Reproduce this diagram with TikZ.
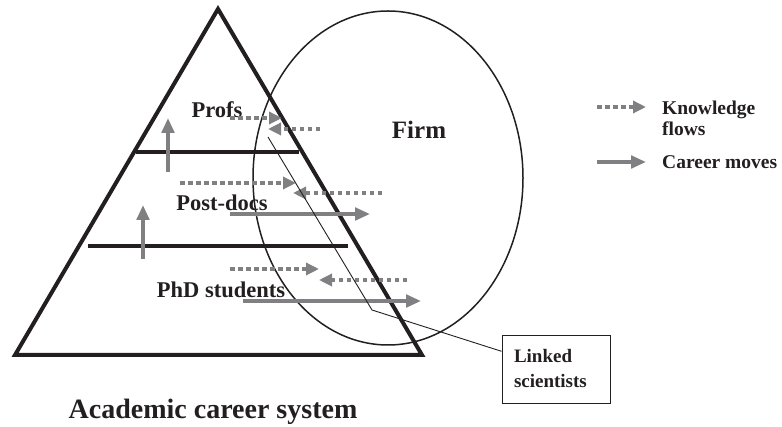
\documentclass[tikz,border=0pt]{standalone}
\usepackage{fontspec}
\setmainfont{Liberation Serif}
\usetikzlibrary{positioning,calc}
\usetikzlibrary{arrows.meta}
\definecolor{flowgray}{RGB}{128,128,130}
\definecolor{inkblack}{RGB}{35,31,32}
\tikzstyle{level} = [font=\bfseries\fontsize{22.5}{26}\selectfont, inner sep=0pt, text=inkblack]
\tikzstyle{flow} = [flowgray, line width=3.4pt, dash pattern=on 4.5pt off 3.5pt, -{Triangle[length=13pt,width=12pt]}]
\tikzstyle{move} = [flowgray, line width=3.6pt, -{Triangle[length=15pt,width=12.5pt]}]
\tikzstyle{tier} = [inkblack, line width=3.6pt]
\tikzstyle{linkbox} = [rectangle, draw=inkblack, line width=0.9pt, text width=84pt, inner sep=12pt, minimum height=68pt, align=left, font=\bfseries\fontsize{19}{25}\selectfont, text=inkblack]

\begin{document}
\begin{tikzpicture}[x=1pt,y=-1pt]
\useasboundingbox (0,0) rectangle (782,427);
% pyramid
\coordinate (apex) at (218,9);
\coordinate (bl) at (15,355);
\coordinate (br) at (422,355);
\draw[inkblack, line width=4pt, line join=miter] (apex) -- (br) -- (bl) -- cycle;
\coordinate (t1l) at (136,152);
\coordinate (t1r) at (299,152);
\coordinate (t2l) at (88,246);
\coordinate (t2r) at (348,246);
\draw[tier] (t1l) -- (t1r);
\draw[tier] (t2l) -- (t2r);
% firm
\draw[inkblack, line width=1.5pt] (388,178) ellipse [x radius=135pt, y radius=167pt];
\node[level, font=\bfseries\fontsize{25}{28}\selectfont] (firm) at (419,130) {Firm};
% levels
\node[level] (profs) at (217,110) {Profs};
\node[level] (pd) at (222,203) {Post-docs};
\node[level] (phd) at (221,290) {PhD students};
% upward moves
\coordinate (u1a) at (168,172);
\coordinate (u1b) at (168,118);
\coordinate (u2a) at (143,259);
\coordinate (u2b) at (143,205);
\draw[move] (u1a) -- (u1b);
\draw[move] (u2a) -- (u2b);
% flows, profs
\coordinate (p1a) at (230,118);
\coordinate (p1b) at (282,118);
\coordinate (p2a) at (320,129);
\coordinate (p2b) at (268,129);
\draw[flow] (p1a) -- (p1b);
\draw[flow] (p2a) -- (p2b);
% flows, post-docs
\coordinate (d1a) at (180,183);
\coordinate (d1b) at (296,183);
\coordinate (d2a) at (382,193);
\coordinate (d2b) at (293,193);
\coordinate (d3a) at (230,214);
\coordinate (d3b) at (370,214);
\draw[flow] (d1a) -- (d1b);
\draw[flow] (d2a) -- (d2b);
\draw[move] (d3a) -- (d3b);
% flows, phd
\coordinate (s1a) at (230,269);
\coordinate (s1b) at (319,269);
\coordinate (s2a) at (407,280);
\coordinate (s2b) at (319,280);
\coordinate (s3a) at (243,301);
\coordinate (s3b) at (421,301);
\draw[flow] (s1a) -- (s1b);
\draw[flow] (s2a) -- (s2b);
\draw[move] (s3a) -- (s3b);
% linked scientists
\node[linkbox] (ls) at (556,369) {Linked\\scientists};
\coordinate (lstart) at (268,137);
\coordinate (lbend) at (372,310);
\draw[inkblack, line width=0.9pt] (lstart) -- (lbend) -- (ls.162);
% legend
\coordinate (k1) at (597,107);
\coordinate (k2) at (646,107);
\coordinate (c1) at (597,162);
\coordinate (c2) at (646,162);
\draw[flow] (k1) -- (k2);
\draw[move] (c1) -- (c2);
\node[level, font=\bfseries\fontsize{19.5}{21}\selectfont, align=left, anchor=west] (kf) at (662,118) {Knowledge\\flows};
\node[level, font=\bfseries\fontsize{19.5}{21}\selectfont, anchor=west] (cm) at (662,162) {Career moves};
% title
\node[level, font=\bfseries\fontsize{28}{32}\selectfont] (acs) at (213,412) {Academic career system};
\end{tikzpicture}
\end{document}
